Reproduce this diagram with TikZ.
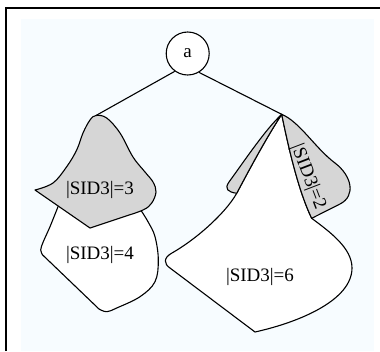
\documentclass[tikz,border=0pt]{standalone}
\usepackage{fontspec}
\setmainfont{Liberation Serif}
\definecolor{bgc}{RGB}{247,252,255}
\definecolor{greyfill}{RGB}{214,214,214}
\begin{document}
\begin{tikzpicture}[x=1pt,y=-1pt,
  outline/.style={draw=black,line width=1.1pt,line join=round},
  greyshape/.style={outline,fill=greyfill},
  whiteshape/.style={outline,fill=white},
  lbl/.style={font=\fontsize{19}{19}\selectfont,inner sep=0pt},
  frameline/.style={draw=black,line width=2pt}]
\useasboundingbox (0,0) rectangle (380,351);
\fill[bgc] (21,19) rectangle (374,351);
\draw[frameline] (6,351) -- (6,8.3) -- (380,8.3);
\node[circle,draw,line width=1.1pt,fill=white,minimum size=43pt,inner sep=0pt,font=\fontsize{19}{19}\selectfont] (a) at (187.7,53.5) {a};
\coordinate (LA) at (96,115.5);
\coordinate (RA) at (281.7,114.3);
\coordinate (Q) at (236.7,193.3);
\coordinate (G) at (311.7,218.3);
% edges
\draw[outline] (a.234) -- (LA);
\draw[outline] (a.301) -- (RA);
% left lower white shape
\draw[whiteshape] (58.3,206) -- plot[smooth,tension=0.6] coordinates {(58.3,206) (50,226.7) (43.3,241.7) (40.7,250) (42.7,255)}
  -- plot[smooth,tension=0.6] coordinates {(99,309) (106.7,311.7) (116.7,308) (140,296.7) (155,281.7) (158.3,260) (155,236.7) (148,221.7) (140.7,210)} -- cycle;
% left grey shape
\draw[greyshape] (35,190) -- plot[smooth,tension=0.6] coordinates {(35,190) (53,183) (66.7,166.7) (76.7,150) (83,133) (90,120) (96,115.5) (106.7,118) (120,133) (133,157) (145,172) (153,182) (156,192) (151.7,203) (143,210) (120,218) (90,228)} -- cycle;
% right big white shape
\draw[whiteshape] (RA) .. controls (265,140) and (248,172) .. (Q)
  .. controls (225,214) and (195,240) .. (172,253)
  .. controls (163,258) and (164,264) .. (170,268)
  -- (255,332)
  .. controls (300,322) and (352,300) .. (352,268)
  .. controls (352,248) and (330,232) .. (G)
  .. controls (298,190) and (288,145) .. (RA) -- cycle;
% right grey sliver
\draw[greyshape] (RA) .. controls (265,130) and (245,160) .. (229,182)
  .. controls (224,189) and (228,192) .. (Q)
  .. controls (248,172) and (265,140) .. (RA) -- cycle;
% right grey shape
\draw[greyshape] (RA) .. controls (300,122) and (315,148) .. (335,163)
  .. controls (352,176) and (356,196) .. (340,204)
  -- (G) .. controls (298,190) and (288,145) .. (RA) -- cycle;
% labels
\node[lbl] (l3) at (100,190) {|SID3|=3};
\node[lbl] (l4) at (100,255) {|SID3|=4};
\node[lbl] (l6) at (260,277) {|SID3|=6};
\node[lbl,rotate=-69] (l2) at (308,177) {|SID3|=2};
\end{tikzpicture}
\end{document}
